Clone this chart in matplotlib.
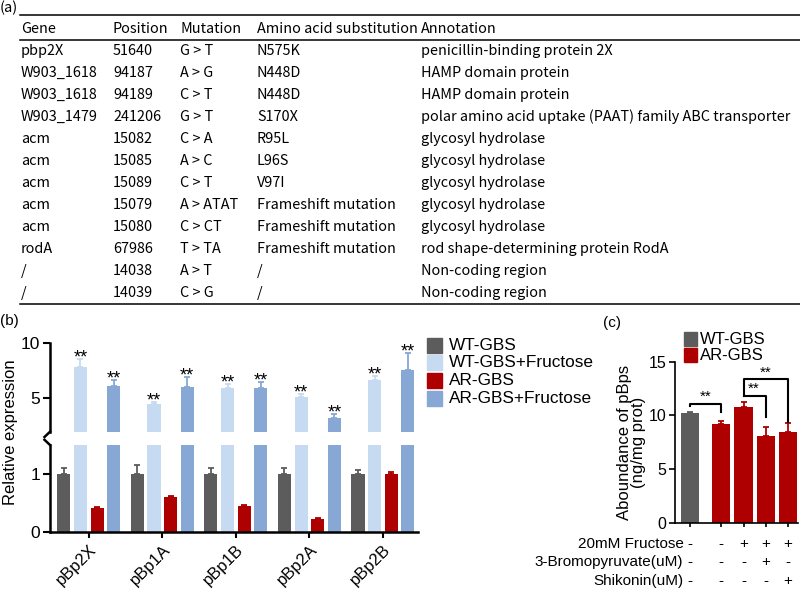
import matplotlib
matplotlib.use("Agg")
import matplotlib.pyplot as plt
from matplotlib.lines import Line2D
from matplotlib.patches import Rectangle
import numpy as np

# (a) mutation table
table_header = ["Gene", "Position", "Mutation", "Amino acid substitution", "Annotation"]
genes = ["pbp2X", "W903_1618", "W903_1618", "W903_1479", "acm", "acm", "acm",
         "acm", "acm", "rodA", "/", "/"]
positions = ["51640", "94187", "94189", "241206", "15082", "15085", "15089",
             "15079", "15080", "67986", "14038", "14039"]
mutations = ["G > T", "A > G", "C > T", "G > T", "C > A", "A > C", "C > T",
             "A > ATAT", "C > CT", "T > TA", "A > T", "C > G"]
substitutions = ["N575K", "N448D", "N448D", "S170X", "R95L", "L96S", "V97I",
                 "Frameshift mutation", "Frameshift mutation", "Frameshift mutation", "/", "/"]
annotations = ["penicillin-binding protein 2X", "HAMP domain protein", "HAMP domain protein",
               "polar amino acid uptake (PAAT) family ABC transporter",
               "glycosyl hydrolase", "glycosyl hydrolase", "glycosyl hydrolase",
               "glycosyl hydrolase", "glycosyl hydrolase",
               "rod shape-determining protein RodA", "Non-coding region", "Non-coding region"]

# (b) relative expression
genes_b = ["pBp2X", "pBp1A", "pBp1B", "pBp2A", "pBp2B"]
series_b = ["WT-GBS", "WT-GBS+Fructose", "AR-GBS", "AR-GBS+Fructose"]
wt = [1.0, 1.0, 1.0, 1.0, 1.0]
wt_err = [0.11, 0.16, 0.1, 0.1, 0.07]
wt_fru = [7.85, 4.4, 5.87, 5.1, 6.6]
wt_fru_err = [0.7, 0.24, 0.4, 0.25, 0.4]
ar = [0.42, 0.6, 0.45, 0.23, 1.0]
ar_err = [0.015, 0.02, 0.015, 0.015, 0.04]
ar_fru = [6.08, 6.02, 5.87, 3.17, 7.55]
ar_fru_err = [0.55, 0.86, 0.58, 0.37, 1.53]

# (c) pBps abundance
c_series = ["WT-GBS", "AR-GBS", "AR-GBS", "AR-GBS", "AR-GBS"]
c_vals = [10.2, 9.2, 10.75, 8.1, 8.45]
c_err = [0.15, 0.3, 0.5, 0.8, 0.85]
fructose = ["-", "-", "+", "+", "+"]
bromo = ["-", "-", "-", "+", "-"]
shikonin = ["-", "-", "-", "-", "+"]
row_names = ["20mM Fructose", "3-Bromopyruvate(uM)", "Shikonin(uM)"]

gray = "#5c5c5c"
light = "#c6dbf2"
red = "#ae0000"
mid = "#87a7d5"
colors = {"WT-GBS": gray, "WT-GBS+Fructose": light, "AR-GBS": red, "AR-GBS+Fructose": mid}

W, H = 800, 592
fig = plt.figure(figsize=(8, 5.92), dpi=100)
plt.rcParams['font.family'] = ['Liberation Sans', 'DejaVu Sans']
tfont = ['Noto Sans CJK SC', 'DejaVu Sans']


def fx(px):
    return px / W


def fy(py):
    return 1 - py / H


# ---- (a) table ----
fig.text(fx(0), fy(8), "(a)", fontsize=10.5, family=tfont, va='center')
col_x = [21, 113, 180, 257, 421]
for cx, h in zip(col_x, table_header):
    fig.text(fx(cx), fy(29), h, fontsize=10.4, family=tfont, va='center')
cols = [genes, positions, mutations, substitutions, annotations]
for i in range(len(genes)):
    for cx, col in zip(col_x, cols):
        fig.text(fx(cx), fy(51 + 22 * i), col[i], fontsize=10.4, family=tfont, va='center')
for ly in (15, 40, 304):
    fig.add_artist(Line2D([fx(20), 1], [fy(ly), fy(ly)], color='black', lw=1.1))

# ---- (b) broken-axis bar chart ----
fig.text(fx(0), fy(321), "(b)", fontsize=11, va='center')
ax_top = fig.add_axes([fx(50), fy(431.7), fx(368.4), 88.4 / H])
ax_bot = fig.add_axes([fx(50), fy(532.3), fx(368.4), 87.3 / H])
x_base = np.arange(len(genes_b)) * 4.42
vals_b = [wt, wt_fru, ar, ar_fru]
errs_b = [wt_err, wt_fru_err, ar_err, ar_fru_err]
for j, name in enumerate(series_b):
    xs = x_base + j
    for ax in (ax_top, ax_bot):
        ax.bar(xs, vals_b[j], 0.79, color=colors[name])
        ax.errorbar(xs, vals_b[j], yerr=[np.zeros(len(xs)), errs_b[j]], fmt='none',
                    ecolor=colors[name], capsize=2.5, elinewidth=1.3, capthick=1.3)
    if "Fructose" in name:
        for x, v, e in zip(xs, vals_b[j], errs_b[j]):
            ax_top.text(x, v + e - 0.3, "**", ha='center', va='baseline', fontsize=13)

for ax in (ax_top, ax_bot):
    ax.set_xlim(-0.83, x_base[-1] + 3.63)
    for s in ("top", "right"):
        ax.spines[s].set_visible(False)
    ax.spines["left"].set_linewidth(1.8)
    ax.tick_params(axis='y', labelsize=12.5, width=1.5, length=5, pad=2)
ax_top.set_ylim(1.9, 10)
ax_top.set_yticks([5, 10])
ax_top.spines["bottom"].set_visible(False)
ax_top.set_xticks([])
ax_bot.set_ylim(0, 1.5)
ax_bot.set_yticks([0, 1])
ax_bot.spines["bottom"].set_linewidth(1.8)
ax_bot.set_xticks(x_base + 1.5)
ax_bot.set_xticklabels(genes_b, rotation=45, ha='right', rotation_mode='anchor', fontsize=12)
ax_bot.tick_params(axis='x', width=1.5, length=4, pad=3)
# break marks
ax_top.plot([0, -0.015], [0, -0.06], transform=ax_top.transAxes, color='black', lw=1.8, clip_on=False)
ax_bot.plot([0, -0.015], [1, 1.06], transform=ax_bot.transAxes, color='black', lw=1.8, clip_on=False)
fig.text(fx(11), fy(432), "Relative expression", rotation=90, fontsize=12, ha='center', va='center')

# legend (b)
for k, name in enumerate(series_b):
    cy = 345 + 17.7 * k
    fig.add_artist(Rectangle((fx(427), fy(cy + 7.5)), fx(15), 15 / H, color=colors[name]))
    fig.text(fx(449), fy(cy), name, fontsize=12.4, va='center')

# ---- (c) ----
fig.text(fx(603), fy(323), "(c)", fontsize=11, va='center')
ax_c = fig.add_axes([fx(675), fy(522.7), fx(123), 161 / H])
xc = [0, 1.4, 2.4, 3.4, 4.4]
cc = [colors[s] for s in c_series]
ax_c.bar(xc, c_vals, 0.82, color=cc)
for x, v, e, col in zip(xc, c_vals, c_err, cc):
    ax_c.errorbar(x, v, yerr=[[0], [e]], fmt='none', ecolor=col, capsize=2.5, elinewidth=1.3, capthick=1.3)
ax_c.set_xlim(-0.68, 4.85)
ax_c.set_ylim(0, 15)
ax_c.set_yticks([0, 5, 10, 15])
ax_c.set_xticks(xc)
ax_c.set_xticklabels([])
ax_c.tick_params(axis='y', labelsize=11.5, width=1.2, length=4, pad=2)
ax_c.tick_params(axis='x', width=1.2, length=3)
for s in ("top", "right"):
    ax_c.spines[s].set_visible(False)
for s in ("left", "bottom"):
    ax_c.spines[s].set_linewidth(1.2)
ax_c.set_ylabel("Aboundance of pBps\n(ng/mg prot)", fontsize=12, linespacing=0.95, labelpad=2)

# significance brackets
ax_c.plot([xc[0], xc[0], xc[1], xc[1]], [10.85, 11.1, 11.1, 10.35], color='black', lw=1.5, clip_on=False)
ax_c.text((xc[0] + xc[1]) / 2, 11.35, "**", ha='center', va='baseline', fontsize=11)
ax_c.plot([xc[2], xc[3], xc[3]], [11.8, 11.8, 9.88], color='black', lw=1.5, clip_on=False)
ax_c.text(xc[2] + 0.45, 12.1, "**", ha='center', va='baseline', fontsize=11)
ax_c.plot([xc[2], xc[2], xc[4], xc[4]], [11.8, 13.36, 13.36, 9.41], color='black', lw=1.5, clip_on=False)
ax_c.text(xc[3], 13.6, "**", ha='center', va='baseline', fontsize=11)

# legend (c)
for k, name in enumerate(["WT-GBS", "AR-GBS"]):
    cy = 339 + 16 * k
    fig.add_artist(Rectangle((fx(684), fy(cy + 7)), fx(13), 14 / H, color=colors[name]))
    fig.text(fx(700), fy(cy), name, fontsize=12, va='center')

# treatment rows
for row_y, name, signs in zip([-2.0, -3.65, -5.4], row_names, [fructose, bromo, shikonin]):
    ax_c.text(-0.3, row_y, name, ha='right', va='center', fontsize=11, clip_on=False)
    for x, s in zip(xc, signs):
        ax_c.text(x, row_y, s, ha='center', va='center', fontsize=11, clip_on=False)

fig.savefig("out.png", dpi=100)
